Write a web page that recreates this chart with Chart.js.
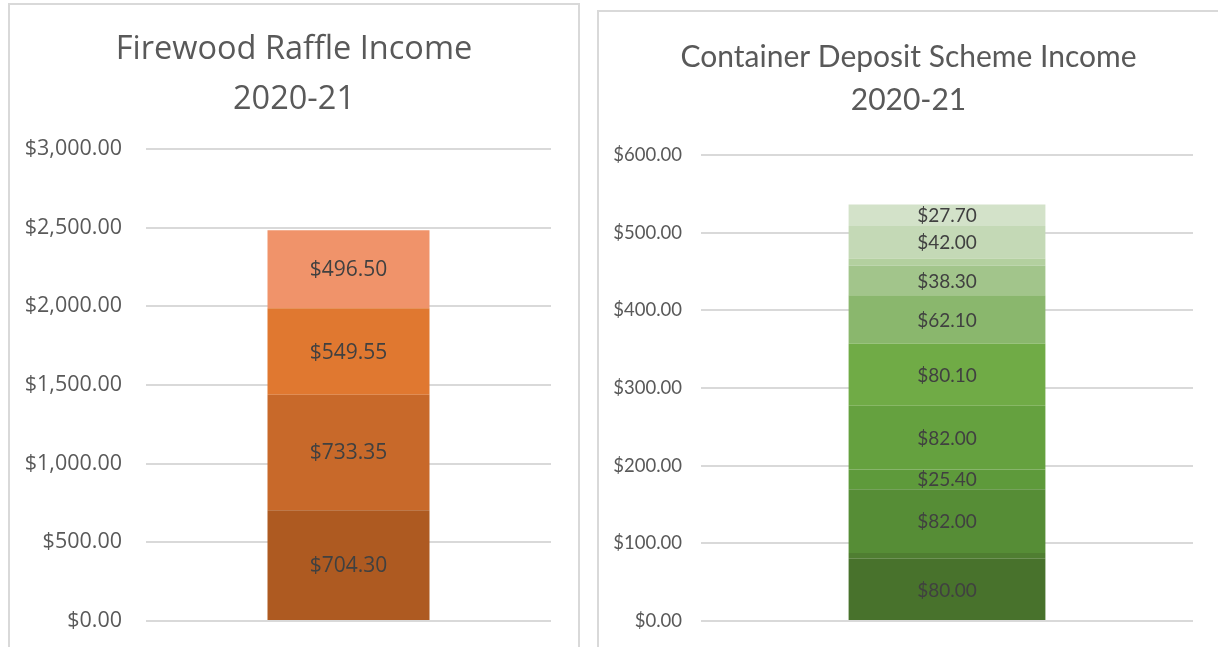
<!DOCTYPE html>
<html>
<head>
<meta charset="utf-8">
<script src="https://cdn.jsdelivr.net/npm/chart.js@4/dist/chart.umd.min.js"></script>
<style>
  html, body { margin: 0; padding: 0; background: #fff; overflow: hidden; width: 1218px; height: 647px; }
  .panel { position: absolute; border: 2px solid #d9d9d9; background: #fff; }
  #left { left: 8px; top: 3px; width: 568px; height: 660px; }
  #right { left: 597px; top: 10px; width: 640px; height: 650px; }
  canvas { display: block; }
</style>
</head>
<body>
<div class="panel" id="left"><canvas id="firewoodChart" width="568" height="660"></canvas></div>
<div class="panel" id="right"><canvas id="cdsChart" width="619" height="650"></canvas></div>
<script>
// firewood raffle, bottom segment first
const firewoodValues = [704.30, 733.35, 549.55, 496.50];
const firewoodColors = ['#ae5a21', '#c8692a', '#e07830', '#f0936a'];
const firewoodTicks = [0, 500, 1000, 1500, 2000, 2500, 3000];

// container deposit scheme, bottom segment first (two thin ones carry no label)
const cdsValues = [80.00, 7.7, 82.00, 25.40, 82.00, 80.10, 62.10, 38.30, 9.0, 42.00, 27.70];
const cdsColors = ['#48722c', '#4f7e31', '#568d36', '#5e9a3b', '#65a13f', '#70ab46',
                   '#8ab76d', '#a2c58b', '#b3d09f', '#c4d9b6', '#d3e2c9'];
const cdsTicks = [0, 100, 200, 300, 400, 500, 600];

const categories = ['2020-21'];

function money(v) {
    return '$' + v.toLocaleString('en-US', { minimumFractionDigits: 2, maximumFractionDigits: 2 });
}

// draws the value in the middle of each stacked piece
const segmentLabels = {
    id: 'segmentLabels',
    afterDatasetsDraw(chart, args, opts) {
        const ctx = chart.ctx;
        ctx.save();
        ctx.font = opts.font;
        ctx.fillStyle = opts.color;
        ctx.textAlign = 'center';
        ctx.textBaseline = 'middle';
        chart.data.datasets.forEach((ds, i) => {
            chart.getDatasetMeta(i).data.forEach((bar, j) => {
                const v = ds.data[j];
                if (v < opts.minValue) return;
                const p = bar.getProps(['x', 'y', 'base'], true);
                ctx.fillText(money(v), p.x, (p.y + p.base) / 2 + 1);
            });
        });
        ctx.restore();
    }
};

function makeChart(id, values, colors, ticks, cfg) {
    const ctx = document.getElementById(id).getContext('2d');
    return new Chart(ctx, {
        type: 'bar',
        data: {
            labels: categories,
            datasets: values.map((v, i) => ({
                data: [v],
                backgroundColor: colors[i],
                borderWidth: 0,
                categoryPercentage: 1,
                barPercentage: 0.4
            }))
        },
        plugins: [segmentLabels],
        options: {
            responsive: false,
            animation: false,
            layout: { padding: { left: 0, right: 0, top: 0, bottom: cfg.padBottom } },
            plugins: {
                legend: { display: false },
                tooltip: { enabled: false },
                title: {
                    display: true,
                    text: cfg.title,
                    color: '#595959',
                    font: { family: cfg.family, size: cfg.titleSize, weight: 'normal', lineHeight: cfg.titleLine },
                    padding: { top: cfg.titleTop, bottom: cfg.titleBottom }
                },
                segmentLabels: {
                    font: cfg.labelFont,
                    color: '#404040',
                    minValue: cfg.minLabel
                }
            },
            scales: {
                x: { stacked: true, display: false },
                y: {
                    stacked: true,
                    min: ticks[0],
                    max: ticks[ticks.length - 1],
                    afterBuildTicks: (scale) => { scale.ticks = ticks.map(t => ({ value: t })); },
                    afterFit: (scale) => { scale.width = cfg.axisWidth; },
                    border: { display: false },
                    grid: { color: '#d9d9d9', lineWidth: 2, drawTicks: false },
                    ticks: {
                        color: '#595959',
                        padding: cfg.tickPad,
                        font: { family: cfg.family, size: cfg.tickSize },
                        callback: (v) => money(v)
                    }
                },
                // empty right axis, just keeps a white margin so the title stays centred on the panel
                spacer: {
                    type: 'linear',
                    position: 'right',
                    afterFit: (scale) => { scale.width = cfg.padRight; },
                    border: { display: false },
                    grid: { display: false },
                    ticks: { display: false }
                }
            }
        }
    });
}

makeChart('firewoodChart', firewoodValues, firewoodColors, firewoodTicks, {
    title: ['Firewood Raffle Income', '2020-21'],
    family: '"Open Sans", "Noto Sans", sans-serif',
    titleSize: 32.5, titleLine: 50 / 32.5, titleTop: 20, titleBottom: 24,
    tickSize: 21.5, tickPad: 24, axisWidth: 136,
    padRight: 27, padBottom: 44,
    labelFont: '21px "Open Sans", sans-serif', minLabel: 0
});

makeChart('cdsChart', cdsValues, cdsColors, cdsTicks, {
    title: ['Container Deposit Scheme Income', '2020-21'],
    family: 'Lato, "Noto Sans", sans-serif',
    titleSize: 30, titleLine: 43 / 30, titleTop: 24, titleBottom: 33,
    tickSize: 18.5, tickPad: 19, axisWidth: 102,
    padRight: 25, padBottom: 41,
    labelFont: '19px Lato, sans-serif', minLabel: 10
});
</script>
</body>
</html>
